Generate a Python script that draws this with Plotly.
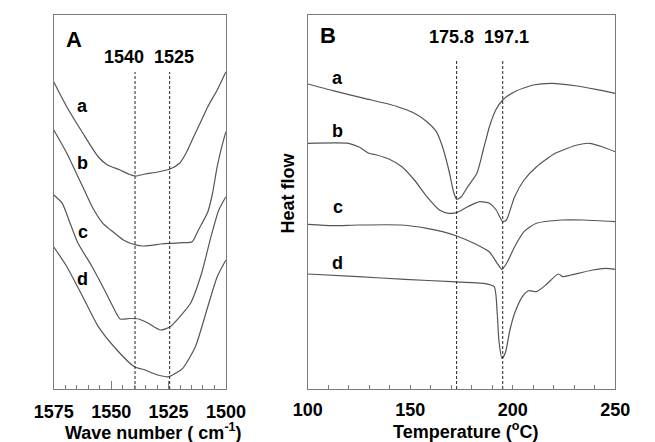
import plotly.graph_objects as go

# ---------------- Panel A: FTIR (wave number vs arbitrary transmittance) ----------------
ftir_a_x = [1575.0, 1569.3, 1562.4, 1555.6, 1551.6, 1546.1, 1542.0, 1539.3, 1535.2, 1529.7, 1524.3,
            1520.2, 1517.4, 1514.7, 1510.6, 1507.9, 1503.8, 1500.0]
ftir_a_y = [307, 282, 256, 232, 224, 219, 214.5, 213, 215, 217, 220,
            225.7, 235.7, 249, 269, 282.3, 299, 317.3]

ftir_b_x = [1575.0, 1569.3, 1565.2, 1562.4, 1558.3, 1553.6, 1550.2, 1544.7, 1540.6, 1536.5, 1532.4,
            1528.4, 1524.3, 1518.8, 1514.7, 1512.0, 1507.9, 1505.9, 1503.8, 1501.8, 1500.0]
ftir_b_y = [259, 235.7, 215.7, 202.3, 182.3, 165.7, 159, 149, 145, 143, 143.7,
            145, 145.7, 146.3, 147.3, 159, 177, 195, 222.3, 242.3, 257.3]

ftir_c_x = [1575.0, 1571.3, 1567.9, 1564.5, 1558.3, 1552.9, 1549.6, 1546.1, 1542.0, 1537.9, 1533.8,
            1528.4, 1524.3, 1518.8, 1515.4, 1510.6, 1506.5, 1503.1, 1500.0]
ftir_c_y = [194, 185.7, 165.7, 146, 122.3, 99, 84, 70, 70.5, 70, 65.7,
            59, 62.3, 75.7, 85.7, 115.7, 152.3, 179, 192.3]

ftir_d_x = [1575.0, 1569.3, 1562.4, 1555.6, 1547.5, 1539.9, 1535.2, 1529.7, 1525.0, 1521.8, 1518.8,
            1513.3, 1507.9, 1503.8, 1500.0]
ftir_d_y = [142, 122.3, 92.3, 62.3, 39, 22.3, 19, 14, 12.3, 16, 20.7,
            42.3, 82.3, 112.3, 129]

ftir_peak_pos = [1539.6, 1524.5]
ftir_peak_labels = ["1540", "1525"]
ftir_tick_vals = [1575, 1550, 1525, 1500]
ftir_tick_text = ["1575", "1550", "1525", "1500"]

# ---------------- Panel B: DSC (temperature vs heat flow) ----------------
dsc_a_x = [100.1, 112.3, 127.6, 142.8, 152.0, 158.1, 162.7, 165.7, 168.8, 171.1, 172.6, 174.9,
           178.0, 182.5, 185.6, 188.6, 191.7, 195.1, 200.9, 210.0, 219.2, 231.4, 240.5, 250.0]
dsc_a_y = [305, 298.3, 290.7, 283, 275.7, 267.3, 257.3, 242.3, 219, 197.3, 189.7, 192.3,
           202.3, 215.7, 239, 262.3, 279, 289, 297.3, 304, 305.7, 303, 299.7, 295.7]

dsc_b_x = [100.1, 119.9, 125.3, 129.9, 133.7, 139.8, 145.9, 152.0, 158.1, 164.2, 168.8, 172.6,
           178.0, 183.9, 188.6, 191.9, 195.1, 196.9, 200.9, 205.5, 211.6, 220.7, 231.4, 237.5,
           243.6, 250.0]
dsc_b_y = [245.7, 245.7, 241.7, 235.7, 234, 229.7, 222.3, 209, 192.3, 179, 175.7, 176.3,
           182.3, 187.3, 185.7, 179, 167.3, 169, 192.3, 209, 222.3, 235.7, 244, 245.7,
           242.3, 237.3]

dsc_c_x = [100.1, 112.3, 124.5, 145.9, 158.1, 165.7, 172.6, 181.0, 188.6, 192.4, 194.7, 197.0,
           200.9, 205.5, 211.5, 223.8, 234.4, 250.0]
dsc_c_y = [164.7, 163.3, 164, 164, 160.7, 157.3, 153, 145.7, 137, 125.7, 119.7, 125.7,
           142.3, 157.3, 165.7, 169, 169, 167.3]

dsc_d_x = [100.1, 124.5, 147.4, 170.3, 185.6, 190.9, 192.4, 193.2, 194.7, 196.3, 198.6, 200.9,
           204.7, 207.7, 211.5, 216.1, 222.2, 224.5, 228.4, 239.0, 245.1, 250.0]
dsc_d_y = [115, 112.3, 109.7, 107.3, 105.7, 102.3, 75.7, 49, 30.7, 35.7, 59, 75.7,
           92.3, 98.3, 97.3, 104, 115, 112.3, 114, 119, 120.7, 119.7]

dsc_peak_pos = [172.6, 195.1]
dsc_peak_labels = ["175.8", "197.1"]
dsc_tick_vals = [100, 150, 200, 250]
dsc_tick_text = ["100", "150", "200", "250"]

curve_labels = ["a", "b", "c", "d"]

# ---------------- figure ----------------
W, H = 655, 442
LINE = "#555555"
FRAME = "#7a7a7a"
FONT = "Liberation Sans, Arial, sans-serif"

fig = go.Figure()
for xs, ys in [(ftir_a_x, ftir_a_y), (ftir_b_x, ftir_b_y), (ftir_c_x, ftir_c_y), (ftir_d_x, ftir_d_y)]:
    fig.add_trace(go.Scatter(x=xs, y=ys, mode="lines", line=dict(color=LINE, width=1.2, shape="spline", smoothing=0.6),
                             xaxis="x", yaxis="y", showlegend=False, hoverinfo="skip"))
for xs, ys in [(dsc_a_x, dsc_a_y), (dsc_b_x, dsc_b_y), (dsc_c_x, dsc_c_y), (dsc_d_x, dsc_d_y)]:
    fig.add_trace(go.Scatter(x=xs, y=ys, mode="lines", line=dict(color=LINE, width=1.2, shape="spline", smoothing=0.6),
                             xaxis="x2", yaxis="y2", showlegend=False, hoverinfo="skip"))

# dashed reference lines
for p in ftir_peak_pos:
    fig.add_trace(go.Scatter(x=[p, p], y=[0, 317], mode="lines", line=dict(color="#222222", width=1, dash="3px,2px"),
                             xaxis="x", yaxis="y", showlegend=False, hoverinfo="skip"))
for p in dsc_peak_pos:
    fig.add_trace(go.Scatter(x=[p, p], y=[0, 329], mode="lines", line=dict(color="#222222", width=1, dash="3px,2px"),
                             xaxis="x2", yaxis="y2", showlegend=False, hoverinfo="skip"))

ydom = [1 - 389 / H, 1 - 15 / H]
axis_common = dict(showgrid=False, zeroline=False, showline=True, mirror=True, linecolor=FRAME, linewidth=1.3)

fig.update_layout(
    width=W, height=H, margin=dict(l=0, r=0, t=0, b=0),
    paper_bgcolor="white", plot_bgcolor="white",
    font=dict(family=FONT, size=18, color="black"),
    xaxis=dict(domain=[36 / W, 219.3 / W], range=[1575, 1500], tickvals=ftir_tick_vals,
               ticktext=["<b>%s</b>" % t for t in ftir_tick_text],
               ticks="inside", ticklen=8, tickcolor=FRAME, tickwidth=1,
               minor=dict(ticks="inside", ticklen=4, dtick=5, tick0=1500, tickcolor=FRAME, tickwidth=1),
               tickfont=dict(size=18, family=FONT, color="black"), ticklabelstandoff=6, **axis_common),
    yaxis=dict(domain=ydom, range=[0, 374], showticklabels=False, ticks="", **axis_common),
    xaxis2=dict(domain=[306.5 / W, 634 / W], range=[100, 250], tickvals=dsc_tick_vals,
                ticktext=["<b>%s</b>" % t for t in dsc_tick_text],
                ticks="inside", ticklen=4, tickcolor=FRAME, tickwidth=1,
                minor=dict(ticks="inside", ticklen=4, dtick=10, tick0=100, tickcolor=FRAME, tickwidth=1),
                tickfont=dict(size=18, family=FONT, color="black"), ticklabelstandoff=4,
                anchor="y2", **axis_common),
    yaxis2=dict(domain=ydom, range=[0, 374], showticklabels=False, ticks="", anchor="x2", **axis_common),
)

ann = []
bold = dict(family=FONT, size=18, color="black", weight="bold")
C = dict(showarrow=False, xanchor="center", yanchor="middle")
# panel letters
ann.append(dict(x=1566.4, y=350, xref="x", yref="y", text="<b>A</b>", font=dict(family=FONT, size=22, color="black"), **C))
ann.append(dict(x=109.8, y=354, xref="x2", yref="y2", text="<b>B</b>", font=dict(family=FONT, size=22, color="black"), **C))
# peak labels
for p, t in zip([1544.3, 1522.6], ftir_peak_labels):
    ann.append(dict(x=p, y=332, xref="x", yref="y", text="<b>%s</b>" % t, font=bold, **C))
for p, t in zip([170.3, 197.0], dsc_peak_labels):
    ann.append(dict(x=p, y=351.7, xref="x2", yref="y2", text="<b>%s</b>" % t, font=bold, **C))
# curve labels
for t, yv in zip(curve_labels, [283, 226, 157.3, 110]):
    ann.append(dict(x=1562.4, y=yv, xref="x", yref="y", text="<b>%s</b>" % t, font=bold, **C))
for t, yv in zip(curve_labels, [310.7, 258.3, 182.3, 125.7]):
    ann.append(dict(x=114.6, y=yv, xref="x2", yref="y2", text="<b>%s</b>" % t, font=bold, **C))
# axis titles
ann.append(dict(x=141.7 / W, y=1 - 431.7 / H, xref="paper", yref="paper",
                text="<b>Wave number ( cm<sup>-1</sup>)</b>", font=bold, **C))
ann.append(dict(x=475 / W, y=1 - 430.7 / H, xref="paper", yref="paper",
                text="<b>Temperature (<sup>o</sup>C)</b>", font=bold, **C))
ann.append(dict(x=285 / W, y=1 - 193 / H, xref="paper", yref="paper", text="<b>Heat flow</b>", textangle=-90,
                font=bold, **C))
fig.update_layout(annotations=ann)

fig.write_html("out.html")
